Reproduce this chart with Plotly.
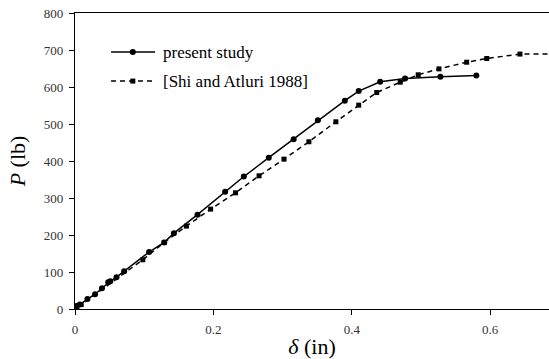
import plotly.graph_objects as go

# present study (circles, solid)
present_x = [0.002, 0.007, 0.018, 0.029, 0.039, 0.048, 0.051, 0.060, 0.071, 0.107, 0.129, 0.143,
             0.177, 0.217, 0.244, 0.280, 0.316, 0.351, 0.390, 0.410, 0.441, 0.477, 0.528, 0.580]
present_y = [8, 12, 27, 40, 56, 72, 75, 86, 102, 154, 180, 205,
             255, 317, 358, 409, 459, 510, 563, 589, 614, 623, 628, 631]

# Shi and Atluri 1988 (squares, dashed)
shi_x = [0.003, 0.009, 0.098, 0.129, 0.161, 0.196, 0.232, 0.266, 0.302, 0.338, 0.377, 0.410,
         0.436, 0.470, 0.496, 0.526, 0.566, 0.595, 0.643, 0.72]
shi_y = [7, 12, 133, 180, 224, 270, 314, 360, 405, 452, 506, 551,
         585, 613, 633, 649, 667, 677, 689, 689]

series_names = ["present study", "[Shi and Atluri 1988]"]

x_ticks = [0, 0.2, 0.4, 0.6]
x_tick_labels = ["0", "0.2", "0.4", "0.6"]
y_ticks = [0, 100, 200, 300, 400, 500, 600, 700, 800]

serif = "Liberation Serif, Times New Roman, serif"

fig = go.Figure()
fig.add_trace(go.Scatter(
    x=present_x, y=present_y, mode="lines+markers", name=series_names[0],
    line=dict(color="black", width=1.5),
    marker=dict(symbol="circle", size=6, color="black"),
))
fig.add_trace(go.Scatter(
    x=shi_x, y=shi_y, mode="lines+markers", name=series_names[1],
    line=dict(color="black", width=1.5, dash="5px,4px"),
    marker=dict(symbol="square", size=5, color="black"),
))

# custom legend (paper coordinates)
leg_x0, leg_x1, leg_xm, leg_tx = 0.076, 0.169, 0.122, 0.181
leg_rows = [0.868, 0.770]
shapes = []
annotations = []
for i, yy in enumerate(leg_rows):
    shapes.append(dict(type="line", xref="paper", yref="paper", x0=leg_x0, x1=leg_x1, y0=yy, y1=yy,
                       line=dict(color="black", width=1.5, dash="solid" if i == 0 else "5px,4px")))
    shapes.append(dict(type="circle" if i == 0 else "rect", xref="paper", yref="paper",
                       xsizemode="pixel", ysizemode="pixel", xanchor=leg_xm, yanchor=yy,
                       x0=-3 if i == 0 else -2.5, x1=3 if i == 0 else 2.5,
                       y0=-3 if i == 0 else -2.5, y1=3 if i == 0 else 2.5,
                       fillcolor="black", line=dict(color="black", width=0)))
    annotations.append(dict(xref="paper", yref="paper", x=leg_tx, y=yy, xanchor="left", yanchor="middle",
                            text=series_names[i], showarrow=False,
                            font=dict(family=serif, size=17, color="black")))

fig.update_layout(
    width=549, height=359,
    margin=dict(l=75, r=0, t=13, b=50),
    plot_bgcolor="white", paper_bgcolor="white",
    font=dict(family=serif, color="black"),
    showlegend=False,
    shapes=shapes, annotations=annotations,
    xaxis=dict(
        range=[0, 0.685], tickvals=x_ticks, ticktext=x_tick_labels,
        showgrid=False, zeroline=False,
        showline=True, linecolor="black", linewidth=1.2, mirror=True,
        ticks="outside", ticklen=5, tickcolor="black", tickwidth=1,
        ticklabelstandoff=3,
        tickfont=dict(family=serif, size=13, color="#333"),
        title=dict(text="<i>δ</i> (in)", font=dict(family=serif, size=22, color="black"), standoff=2),
    ),
    yaxis=dict(
        range=[0, 800], tickvals=y_ticks,
        showgrid=False, zeroline=False,
        showline=True, linecolor="black", linewidth=1.2,
        ticks="outside", ticklen=5, tickcolor="black", tickwidth=1,
        ticklabelstandoff=3,
        tickfont=dict(family=serif, size=13, color="#333"),
        title=dict(text="<i>P</i> (lb)", font=dict(family=serif, size=22, color="black"), standoff=12),
    ),
)

fig.write_html("out.html")
